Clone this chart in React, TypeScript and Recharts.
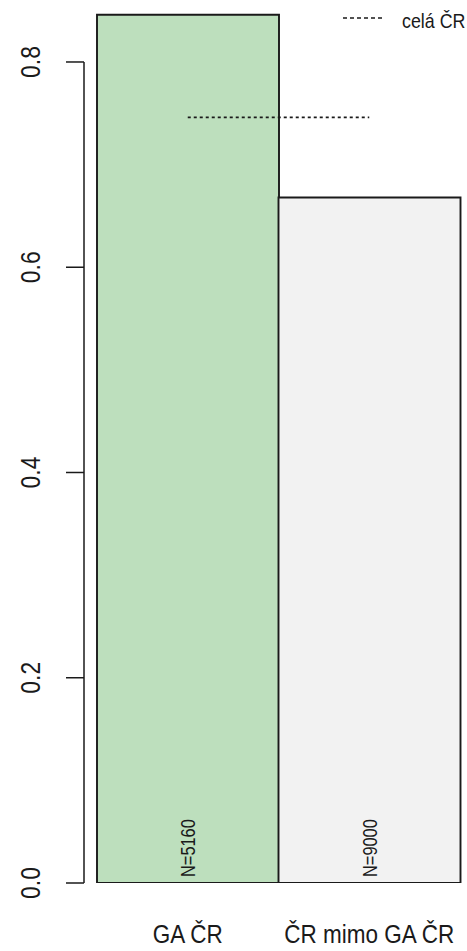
import { Bar, BarChart, Cell, LabelList, ReferenceLine, XAxis, YAxis } from "recharts";

const categories = ["GA ČR", "ČR mimo GA ČR"];
const shares = [0.846, 0.668];
const counts = [5160, 9000];
const barColors = ["#bddfbd", "#f2f2f2"];
const overallShare = 0.746;
const overallLabel = "celá ČR";
const yTicks = [0, 0.2, 0.4, 0.6, 0.8];

const FONT = "'Liberation Sans', Arial, sans-serif";
const INK = "#1a1a1a";

const data = categories.map((name, i) => ({ name, share: shares[i], n: counts[i] }));

// R-style condensed text: Liberation Sans squeezed along the baseline
function NarrowText({
  x,
  y,
  size,
  squeeze = 0.82,
  angle = 0,
  anchor = "middle",
  baseline = "auto",
  children,
}: {
  x: number;
  y: number;
  size: number;
  squeeze?: number;
  angle?: number;
  anchor?: "start" | "middle" | "end";
  baseline?: string;
  children: any;
}) {
  return (
    <g transform={`translate(${x}, ${y}) rotate(${angle}) scale(${squeeze}, 1)`}>
      <text x={0} y={0} textAnchor={anchor} dominantBaseline={baseline} fontFamily={FONT} fontSize={size} fill={INK}>
        {children}
      </text>
    </g>
  );
}

function YTick(props: any) {
  const { y, payload } = props;
  return (
    <g>
      <line x1={66} x2={84} y1={y} y2={y} stroke={INK} strokeWidth={1.5} />
      <NarrowText x={30} y={y} size={28} angle={-90} baseline="central">
        {payload.value.toFixed(1)}
      </NarrowText>
    </g>
  );
}

function XTick(props: any) {
  const { x, y, payload } = props;
  return (
    <NarrowText x={x} y={y + 52} size={25} squeeze={0.9}>
      {payload.value}
    </NarrowText>
  );
}

function NLabel(props: any) {
  const { x, y, width, height, value } = props;
  return (
    <NarrowText x={x + width / 2} y={y + height - 6} size={20} angle={-90} anchor="start" baseline="central">
      {`N=${value}`}
    </NarrowText>
  );
}

export default function App() {
  return (
    <div style={{ position: "absolute", left: 0, top: 0, width: 467, height: 951, background: "#fff" }}>
      <BarChart
        width={467}
        height={951}
        data={data}
        margin={{ top: 0, right: 7, bottom: 0, left: 0 }}
        barCategoryGap={0}
      >
        <XAxis dataKey="name" height={68} axisLine={false} tickLine={false} tick={<XTick />} interval={0} />
        <YAxis
          width={97}
          domain={[0, 0.8604]}
          allowDataOverflow
          ticks={yTicks}
          axisLine={false}
          tickLine={false}
          tick={<YTick />}
        />
        <Bar dataKey="share" stroke={INK} strokeWidth={1.9} isAnimationActive={false}>
          {data.map((d, i) => (
            <Cell key={d.name} fill={barColors[i]} />
          ))}
          <LabelList dataKey="n" content={<NLabel />} />
        </Bar>
        <ReferenceLine
          segment={[
            { x: categories[0], y: yTicks[0] },
            { x: categories[0], y: yTicks[yTicks.length - 1] },
          ]}
          ifOverflow="visible"
          shape={(p: any) => <line x1={84} x2={84} y1={p.y1} y2={p.y2} stroke={INK} strokeWidth={1.5} />}
        />
        <ReferenceLine
          segment={[
            { x: categories[0], y: overallShare },
            { x: categories[1], y: overallShare },
          ]}
          stroke={INK}
          strokeWidth={1.7}
          strokeDasharray="3 3"
        />
      </BarChart>
      <svg width={140} height={40} style={{ position: "absolute", left: 330, top: 0 }}>
        <line x1={13} x2={53} y1={18} y2={18} stroke={INK} strokeWidth={1.7} strokeDasharray="4 3" />
        <NarrowText x={72} y={28} size={21} squeeze={0.85} anchor="start">
          {overallLabel}
        </NarrowText>
      </svg>
    </div>
  );
}
